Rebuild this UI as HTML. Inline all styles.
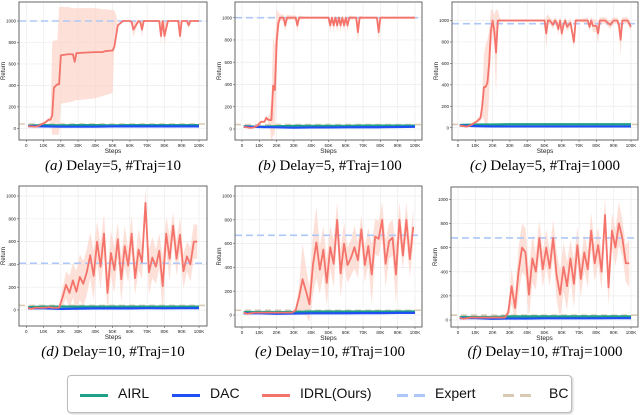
<!DOCTYPE html>
<html><head><meta charset="utf-8"><style>
body{margin:0;background:#fff;width:640px;height:415px;overflow:hidden;position:relative;font-family:"Liberation Sans",sans-serif}
svg{position:absolute;left:0;top:0}
.cap{position:absolute;font-family:"Liberation Serif",serif;font-size:15px;white-space:nowrap;transform:translateX(-50%)}
#legend{position:absolute;left:67px;top:375px;width:503px;height:36px;border:1px solid #bbb;border-radius:4px;box-shadow:1px 1px 2px #ccc;background:#fff}
.le{position:absolute;top:9px;font-size:14px;color:#111}
.ll{position:absolute;top:18px;height:3px;width:28px}
</style></head><body>
<svg id="chart" width="640" height="415"></svg>
<div class="cap" style="left:113px;top:158px"><i>(a)</i> Delay=5, #Traj=10</div>
<div class="cap" style="left:330px;top:158px"><i>(b)</i> Delay=5, #Traj=100</div>
<div class="cap" style="left:545px;top:158px"><i>(c)</i> Delay=5, #Traj=1000</div>
<div class="cap" style="left:113px;top:344px"><i>(d)</i> Delay=10, #Traj=10</div>
<div class="cap" style="left:330px;top:344px"><i>(e)</i> Delay=10, #Traj=100</div>
<div class="cap" style="left:545px;top:344px"><i>(f)</i> Delay=10, #Traj=1000</div>
<div id="legend">
<div class="ll" style="left:12px;background:#1fa187"></div><div class="le" style="left:50px">AIRL</div>
<div class="ll" style="left:104px;background:#1f4ff5"></div><div class="le" style="left:142px">DAC</div>
<div class="ll" style="left:194px;background:#f4736b"></div><div class="le" style="left:232px">IDRL(Ours)</div>
<div class="ll" style="left:329px;background:linear-gradient(90deg,#aec7f8 0 40%,transparent 40% 60%,#aec7f8 60%)"></div><div class="le" style="left:367px">Expert</div>
<div class="ll" style="left:435px;background:linear-gradient(90deg,#d9cbb3 0 40%,transparent 40% 60%,#d9cbb3 60%)"></div><div class="le" style="left:481px">BC</div>
</div>
<script>
const yTicks=[0,200,400,600,800,1000];
const xTicks=[0,10,20,30,40,50,60,70,80,90,100];
const xTickLabels=["0","10K","20K","30K","40K","50K","60K","70K","80K","90K","100K"];
const baseX=[1,10,20,30,40,50,60,70,80,90,100];
const expertVals=[1000,1000,970,410,670,680];
const bcVals=[40,40,30,40,40,40];

const aX=[1,3,5,7,9,11,13,14,15,16,18,19,20,24,27,28,29,34,40,44,46,50,51,53,56,60,61,62,65,66,67,68,70,75,77,78,79,80,82,85,87,88,89,90,92,93,94,95,97,100];
const aY=[20,18,15,20,40,55,80,80,120,380,410,410,680,690,690,620,700,705,710,710,720,725,760,960,1000,1000,990,920,1000,990,920,1000,1000,1000,1000,860,1000,860,1000,1000,1000,1000,860,1000,1000,1000,960,1000,1000,1000];
const aLo=[15,12,10,15,30,40,60,60,-60,-60,-60,-60,230,240,250,260,260,270,280,300,310,330,800,1000,1000,1000,960,850,1000,960,850,1000,1000,1000,1000,780,1000,780,1000,1000,1000,1000,800,1000,1000,1000,920,1000,1000,1000];
const aHi=[25,24,20,25,50,70,100,100,800,820,820,1130,1130,1130,1120,1120,1120,1120,1120,1110,1110,1100,1100,1000,1000,1000,1000,1000,1000,1000,1000,1000,1000,1000,1000,1000,1000,1000,1000,1000,1000,1000,1000,1000,1000,1000,1000,1000,1000,1000];

const bX=[1,3,5,7,9,10,11,13,14,15,16,17,18,19,20,21,22,24,25,26,28,31,32,33,36,40,45,50,51,52,53,54,55,56,57,58,59,60,61,62,66,67,68,70,75,78,79,80,85,90,95,100];
const bY=[20,15,10,15,30,50,65,65,100,85,80,80,390,350,780,950,1000,1000,930,1000,1000,1000,930,1000,1000,1000,1000,1000,930,1000,930,1000,930,1000,930,1000,930,1000,930,1000,1000,870,1000,1000,1000,1000,870,1000,1000,1000,1000,1000];
const bSpread=[5,5,5,5,10,10,10,10,20,20,60,200,450,400,300,100,30,30,60,30,20,20,60,20,10,10,10,10,60,20,60,20,60,20,60,20,60,20,60,20,10,100,20,10,10,10,100,10,10,10,10,10];

const cX=[1,3,5,7,9,11,13,14,15,16,17,18,19,20,21,22,23,24,25,30,40,50,51,52,53,55,56,57,58,59,60,61,62,63,65,67,68,70,75,76,77,78,80,81,82,85,88,90,92,93,94,95,97,98,100];
const cY=[20,15,10,20,40,60,90,200,380,380,420,600,900,1000,900,700,1000,1000,1000,1000,1000,1000,880,1000,1000,960,1000,980,920,1000,880,960,1000,940,980,800,1000,1000,1000,940,1000,950,950,880,1000,1000,960,1000,1000,960,820,1000,1000,1000,940];
const cSpread=[5,5,5,5,10,20,30,100,300,400,400,300,200,100,150,400,100,30,10,10,10,10,150,60,30,40,30,40,60,40,80,40,30,40,40,60,20,10,30,40,40,60,60,100,30,30,40,30,30,40,150,30,30,30,40];

const nX=[1,3,5,7,9,11,13,15,17,19,21,23,25,27,29,31,33,35,37,39,41,43,45,47,49,51,53,55,57,59,61,63,65,67,69,71,73,75,77,79,81,83,85,87,89,91,93,95,97,99];
const dY=[20,10,20,20,20,20,25,20,20,20,110,220,150,260,160,290,230,330,480,300,600,380,670,150,500,350,620,270,560,390,670,280,530,420,940,330,460,380,520,210,670,450,740,450,660,340,470,400,600,600];
const dSpread=[10,10,10,10,10,10,10,10,10,20,80,120,150,150,180,200,200,200,200,220,180,200,180,180,200,200,150,200,180,150,160,150,180,150,120,200,180,150,150,250,150,200,120,150,150,150,130,150,150,150];
const eY=[20,10,15,20,20,20,20,20,20,20,20,20,20,20,20,40,150,300,200,90,420,610,380,550,270,570,430,800,350,600,420,480,570,460,720,420,580,340,660,640,800,430,620,650,340,800,500,800,470,740];
const eSpread=[10,10,10,10,10,10,10,10,10,10,10,10,10,10,10,20,100,300,200,150,250,300,200,200,200,180,200,150,200,180,150,150,180,150,120,150,150,250,150,150,150,200,150,150,250,150,120,150,150,150];
const fY=[20,10,15,20,20,20,20,20,20,20,20,20,20,20,60,280,100,400,600,560,210,510,400,680,420,600,430,680,370,210,440,280,510,300,620,340,560,420,740,470,620,400,870,270,740,600,800,680,470,470];
const fSpread=[10,10,10,10,10,10,10,10,10,10,10,10,10,10,40,150,120,200,200,200,200,200,150,150,150,150,150,150,200,200,200,200,150,200,150,150,150,150,150,150,150,150,150,150,150,150,180,150,150,200];

const airl=[[25,30,28,30,30,28,30,30,30,30,30],[25,20,25,28,28,28,28,30,30,30,30],[25,30,30,32,32,32,32,32,32,32,32],[25,30,30,30,30,30,30,30,30,30,30],[25,25,25,25,30,30,30,30,30,30,30],[25,25,25,30,30,30,30,30,30,30,30]];
const dac=[[20,18,15,15,15,18,18,18,18,18,18],[20,18,15,12,14,14,15,16,16,18,20],[20,15,12,12,12,12,12,12,12,12,12],[15,15,10,12,14,14,14,16,15,16,16],[15,15,10,12,14,14,15,16,16,18,18],[15,15,10,12,12,14,14,14,14,15,15]];

const panels=[
 {n:'a',L:19,R:207,T:2,B:140,x0:26.3,x1:199,y0:128.3,y1:21,X:aX,Y:aY,lo:aLo,hi:aHi},
 {n:'b',L:235,R:422,T:2,B:140,x0:242,x1:415,y0:129,y1:17.7,X:bX,Y:bY,sp:bSpread},
 {n:'c',L:452,R:638,T:2,B:140,x0:458,x1:631,y0:127.7,y1:20.5,X:cX,Y:cY,sp:cSpread},
 {n:'d',L:19,R:207,T:186,B:326,x0:26.3,x1:199,y0:310,y1:196,X:nX,Y:dY,sp:dSpread},
 {n:'e',L:235,R:422,T:186,B:327,x0:242,x1:415,y0:315,y1:196,X:nX,Y:eY,sp:eSpread},
 {n:'f',L:451,R:638,T:187,B:327,x0:458,x1:631,y0:320,y1:199.3,X:nX,Y:fY,sp:fSpread}
];
const NS='http://www.w3.org/2000/svg';
const svg=document.getElementById('chart');
function mk(tag,attrs,parent){const e=document.createElementNS(NS,tag);for(const k in attrs)e.setAttribute(k,attrs[k]);(parent||svg).appendChild(e);return e;}
panels.forEach((p,i)=>{
 const g=mk('g',{});
 
 
 const sx=v=>p.x0+(p.x1-p.x0)*v/100;
 const sy=v=>p.y0+(p.y1-p.y0)*v/1000;
 const clip=mk('clipPath',{id:'clip'+p.n},g);mk('rect',{x:p.L,y:p.T,width:p.R-p.L,height:p.B-p.T},clip);
 xTicks.forEach((t,j)=>{
  const l=mk('line',{x1:sx(t),x2:sx(t),y1:p.T,y2:p.B,stroke:'#ececec','stroke-width':0.7},g);
  
  mk('line',{x1:sx(t),x2:sx(t),y1:p.B,y2:p.B+2,stroke:'#555','stroke-width':0.6},g);
  const tx=mk('text',{x:sx(t),y:p.B+7,'font-size':4.5,'text-anchor':'middle',fill:'#222'},g);
  tx.textContent=xTickLabels[j];
  
 });
 yTicks.forEach(t=>{
  const l=mk('line',{x1:p.L,x2:p.R,y1:sy(t),y2:sy(t),stroke:'#ececec','stroke-width':0.7},g);
  
  mk('line',{x1:p.L-2,x2:p.L,y1:sy(t),y2:sy(t),stroke:'#555','stroke-width':0.6},g);
  const tx=mk('text',{x:p.L-3,y:sy(t)+1.6,'font-size':4.5,'text-anchor':'end',fill:'#222'},g);
  tx.textContent=t;
  
 });
 const cg=mk('g',{'clip-path':'url(#clip'+p.n+')'},g);
 const lo=p.lo||p.Y.map((v,k)=>v-p.sp[k]);
 const hi=p.hi||p.Y.map((v,k)=>v+p.sp[k]);
 let d='M'+p.X.map((x,k)=>sx(x)+','+sy(hi[k])).join('L');
 for(let k=p.X.length-1;k>=0;k--)d+='L'+sx(p.X[k])+','+sy(lo[k]);
 const band=mk('path',{d:d+'Z',fill:'#fcd3c8','fill-opacity':0.7},cg);
 
 const bl=mk('line',{x1:p.L,x2:p.R,y1:sy(bcVals[i]),y2:sy(bcVals[i]),stroke:'#d9cbb3','stroke-width':1.6,'stroke-dasharray':'6,4'},cg);
 
 const a=mk('polyline',{points:baseX.map((x,k)=>sx(x)+','+sy(airl[i][k])).join(' '),fill:'none',stroke:'#1fa187','stroke-width':2.2},cg);
 
 const dc=mk('polyline',{points:baseX.map((x,k)=>sx(x)+','+sy(dac[i][k])).join(' '),fill:'none',stroke:'#1f4ff5','stroke-width':2.2},cg);
 
 const el=mk('line',{x1:p.L,x2:p.R,y1:sy(expertVals[i]),y2:sy(expertVals[i]),stroke:'#aec7f8','stroke-width':1.6,'stroke-dasharray':'7,4'},cg);
 
 const il=mk('polyline',{points:p.X.map((x,k)=>sx(x)+','+sy(p.Y[k])).join(' '),fill:'none',stroke:'#f4736b','stroke-width':1.8,'stroke-linejoin':'round'},cg);
 
 const fr=mk('rect',{x:p.L,y:p.T,width:p.R-p.L,height:p.B-p.T,fill:'none',stroke:'#666','stroke-width':1},g);
 
 const xl=mk('text',{x:(p.L+p.R)/2,y:p.B+13,'font-size':6.5,'text-anchor':'middle',fill:'#222'},g);
 xl.textContent='Steps';
 
 const yx=p.L-14,yy=(p.T+p.B)/2;
 const yl=mk('text',{x:yx,y:yy,'font-size':6,'text-anchor':'middle',fill:'#222',transform:'rotate(-90 '+yx+' '+yy+')'},g);
 yl.textContent='Return';
 
});
</script>
</body></html>
